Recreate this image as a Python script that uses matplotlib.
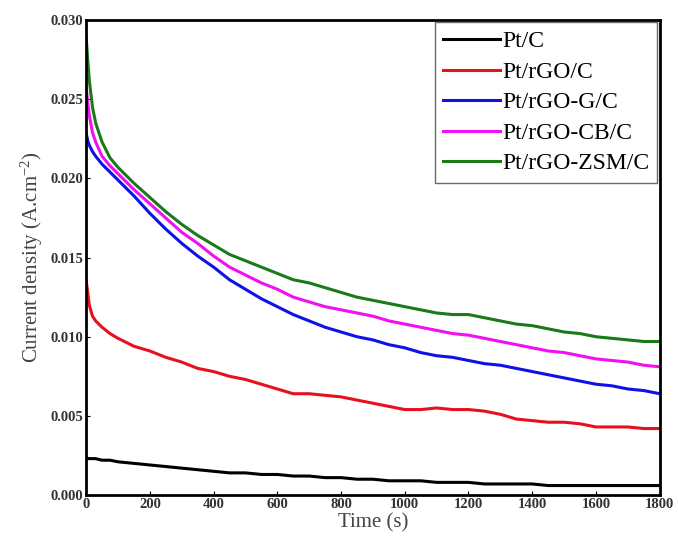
import matplotlib.pyplot as plt

plt.rcParams['font.family'] = ['Liberation Serif', 'DejaVu Serif']
plt.rcParams['mathtext.fontset'] = 'custom'
plt.rcParams['mathtext.rm'] = 'Liberation Serif'
plt.rcParams['mathtext.it'] = 'Liberation Serif'
plt.rcParams['mathtext.default'] = 'regular'

# time points (s) and current density (A/cm2)
t = [0, 5, 10, 20, 30, 50, 75, 100, 150, 200, 250, 300, 350, 400, 450, 500, 550,
     600, 650, 700, 750, 800, 850, 900, 950, 1000, 1050, 1100, 1150, 1200, 1250,
     1300, 1350, 1400, 1450, 1500, 1550, 1600, 1650, 1700, 1750, 1800]

pt_c = [0.0024, 0.0023, 0.0023, 0.0023, 0.0023, 0.0022, 0.0022, 0.0021, 0.0020, 0.0019,
        0.0018, 0.0017, 0.0016, 0.0015, 0.0014, 0.0014, 0.0013, 0.0013, 0.0012, 0.0012,
        0.0011, 0.0011, 0.0010, 0.0010, 0.0009, 0.0009, 0.0009, 0.0008, 0.0008, 0.0008,
        0.0007, 0.0007, 0.0007, 0.0007, 0.0006, 0.0006, 0.0006, 0.0006, 0.0006, 0.0006,
        0.0006, 0.0006]

pt_rgo = [0.0136, 0.0128, 0.0120, 0.0113, 0.0110, 0.0106, 0.0102, 0.0099, 0.0094, 0.0091,
          0.0087, 0.0084, 0.0080, 0.0078, 0.0075, 0.0073, 0.0070, 0.0067, 0.0064, 0.0064,
          0.0063, 0.0062, 0.0060, 0.0058, 0.0056, 0.0054, 0.0054, 0.0055, 0.0054, 0.0054,
          0.0053, 0.0051, 0.0048, 0.0047, 0.0046, 0.0046, 0.0045, 0.0043, 0.0043, 0.0043,
          0.0042, 0.0042]

pt_rgo_g = [0.0229, 0.0224, 0.0221, 0.0217, 0.0214, 0.0209, 0.0204, 0.0199, 0.0189, 0.0178,
            0.0168, 0.0159, 0.0151, 0.0144, 0.0136, 0.0130, 0.0124, 0.0119, 0.0114, 0.0110,
            0.0106, 0.0103, 0.0100, 0.0098, 0.0095, 0.0093, 0.0090, 0.0088, 0.0087, 0.0085,
            0.0083, 0.0082, 0.0080, 0.0078, 0.0076, 0.0074, 0.0072, 0.0070, 0.0069, 0.0067,
            0.0066, 0.0064]

pt_rgo_cb = [0.0258, 0.0248, 0.0240, 0.0229, 0.0223, 0.0214, 0.0208, 0.0203, 0.0193, 0.0184,
             0.0175, 0.0166, 0.0159, 0.0151, 0.0144, 0.0139, 0.0134, 0.0130, 0.0125, 0.0122,
             0.0119, 0.0117, 0.0115, 0.0113, 0.0110, 0.0108, 0.0106, 0.0104, 0.0102, 0.0101,
             0.0099, 0.0097, 0.0095, 0.0093, 0.0091, 0.0090, 0.0088, 0.0086, 0.0085, 0.0084,
             0.0082, 0.0081]

pt_rgo_zsm = [0.0290, 0.0275, 0.0262, 0.0245, 0.0235, 0.0223, 0.0213, 0.0207, 0.0197, 0.0188,
              0.0179, 0.0171, 0.0164, 0.0158, 0.0152, 0.0148, 0.0144, 0.0140, 0.0136, 0.0134,
              0.0131, 0.0128, 0.0125, 0.0123, 0.0121, 0.0119, 0.0117, 0.0115, 0.0114, 0.0114,
              0.0112, 0.0110, 0.0108, 0.0107, 0.0105, 0.0103, 0.0102, 0.0100, 0.0099, 0.0098,
              0.0097, 0.0097]

names = ["Pt/C", "Pt/rGO/C", "Pt/rGO-G/C", "Pt/rGO-CB/C", "Pt/rGO-ZSM/C"]
series = [pt_c, pt_rgo, pt_rgo_g, pt_rgo_cb, pt_rgo_zsm]
colors = ["black", "#e8101e", "#1010e8", "#f010f0", "#1a7a1a"]

fig = plt.figure(figsize=(6.78, 5.44), dpi=100)
ax = fig.add_axes([0.127, 0.09, 0.846, 0.873])

for y, name, c in zip(series, names, colors):
    ax.plot(t, y, color=c, lw=2.2, label=name)

ax.set_xlim(0, 1800)
ax.set_ylim(0, 0.030)
ax.set_xticks(range(0, 1801, 200))
ax.set_yticks([0.000, 0.005, 0.010, 0.015, 0.020, 0.025, 0.030])
ax.set_yticklabels(["0.000", "0.005", "0.010", "0.015", "0.020", "0.025", "0.030"])
ax.tick_params(direction='in', length=3, labelsize=10.5, pad=2)
for lab in ax.get_xticklabels() + ax.get_yticklabels():
    lab.set_fontweight('bold')
    lab.set_color('#333333')
for s in ax.spines.values():
    s.set_linewidth(2)

ax.set_xlabel("Time (s)", fontsize=15, labelpad=2, color='#444444')
ax.set_ylabel("Current density (A.cm$^{-2}$)", fontsize=15, labelpad=4, color='#444444')

leg = ax.legend(loc='upper right', fontsize=17, frameon=True, fancybox=False,
                edgecolor='#444444', handlelength=2.4, handletextpad=0.1,
                labelspacing=0.38, borderaxespad=0.1, borderpad=0.35)
leg.get_frame().set_linewidth(1)

fig.savefig("out.png", dpi=100)
